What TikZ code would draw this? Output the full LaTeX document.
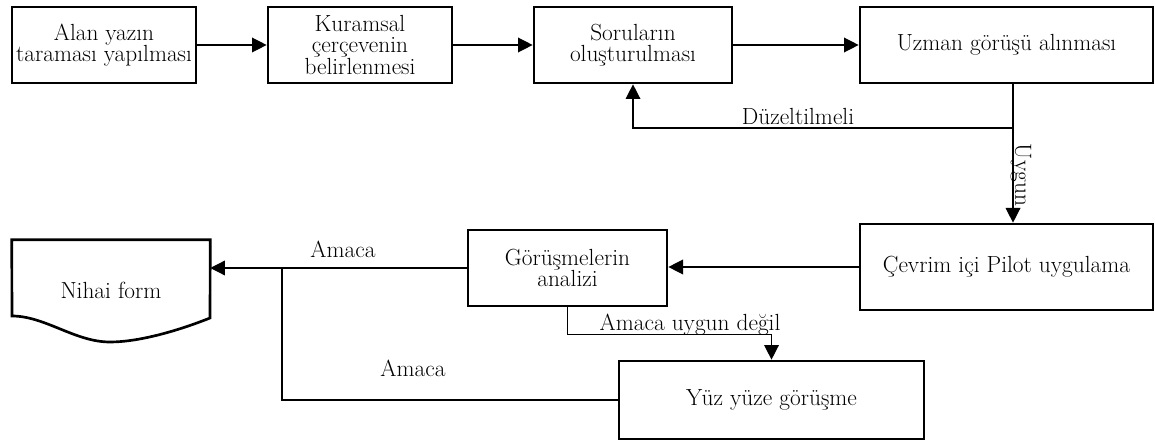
\documentclass[tikz,border=0pt]{standalone}
\usepackage{fontspec}
\usetikzlibrary{arrows.meta,calc}
\newcommand\myNodeFont{\fontsize{17.5}{16.2}\selectfont}
\begin{document}
\begin{tikzpicture}[x=0.75pt,y=-0.75pt,
  every node/.style={font=\myNodeFont},
  bsize/.style 2 args={minimum width=#1*0.75pt,minimum height=#2*0.75pt},
  box/.style={draw,line width=2pt,inner sep=0pt,align=center},
  conn/.style={line width=1pt},
  arr/.style={conn,-{Triangle[length=11pt,width=11pt]}},
  lbl/.style={inner sep=0pt,anchor=base}]
\useasboundingbox (0,0) rectangle (1155,441);
% boxes
\node[box,bsize={184}{76}] (b1) at (104,45) {Alan yazın\\taraması yapılması};
\node[box,bsize={184}{76}] (b2) at (360,45) {Kuramsal\\çerçevenin\\belirlenmesi};
\node[box,bsize={198}{76}] (b3) at (633,45) {Soruların\\oluşturulması};
\node[box,bsize={293}{76}] (b4) at (1006.5,45) {Uzman görüşü alınması};
\node[box,bsize={293}{86}] (b5) at (1006.5,267) {Çevrim içi Pilot uygulama};
\node[box,bsize={199}{76}] (b6) at (567.5,268) {Görüşmelerin\\analizi};
\node[box,bsize={305}{78}] (b7) at (771.5,400) {Yüz yüze görüşme};
\node[inner sep=0pt,bsize={198}{100}] (nf) at (111,290) {Nihai form};
% document shape outline
\draw[line width=2pt,line join=miter] (nf.north west) -- (nf.north east) -- (210,318)
  .. controls (180,330) and (140,342) .. (110,342)
  .. controls (75,342) and (45,316) .. (12,316) -- cycle;
% connectors
\draw[arr] (b1.east) -- (b2.west);
\draw[arr] (b2.east) -- (b3.west);
\draw[arr] (b3.east) -- (b4.west);
\coordinate (j) at (1013,128);
\draw[line width=2pt] (b4.south -| j) -- (j);
\draw[arr] (j) -| (b3.south);
\draw[arr] (j) -- (j |- b5.north);
\draw[arr] (b5.west) -- (b5.west -| b6.east);
\coordinate (k) at (282,268);
\draw[arr] (b6.west) -- (b6.west -| nf.east);
\draw[conn] (b7.west) -| (k);
\draw[arr] (b6.south) -- ++(0,27) -| (b7.north);
% labels
\node[lbl] (l1) at (798,125) {Düzeltilmeli};
\node[inner sep=0pt,rotate=-90] (l2) at (1021,175) {Uygun};
\node[lbl] (l3) at (343,258) {Amaca};
\node[lbl] (l4) at (413,376) {Amaca};
\node[lbl] (l5) at (690,330) {Amaca uygun değil};
\end{tikzpicture}
\end{document}
